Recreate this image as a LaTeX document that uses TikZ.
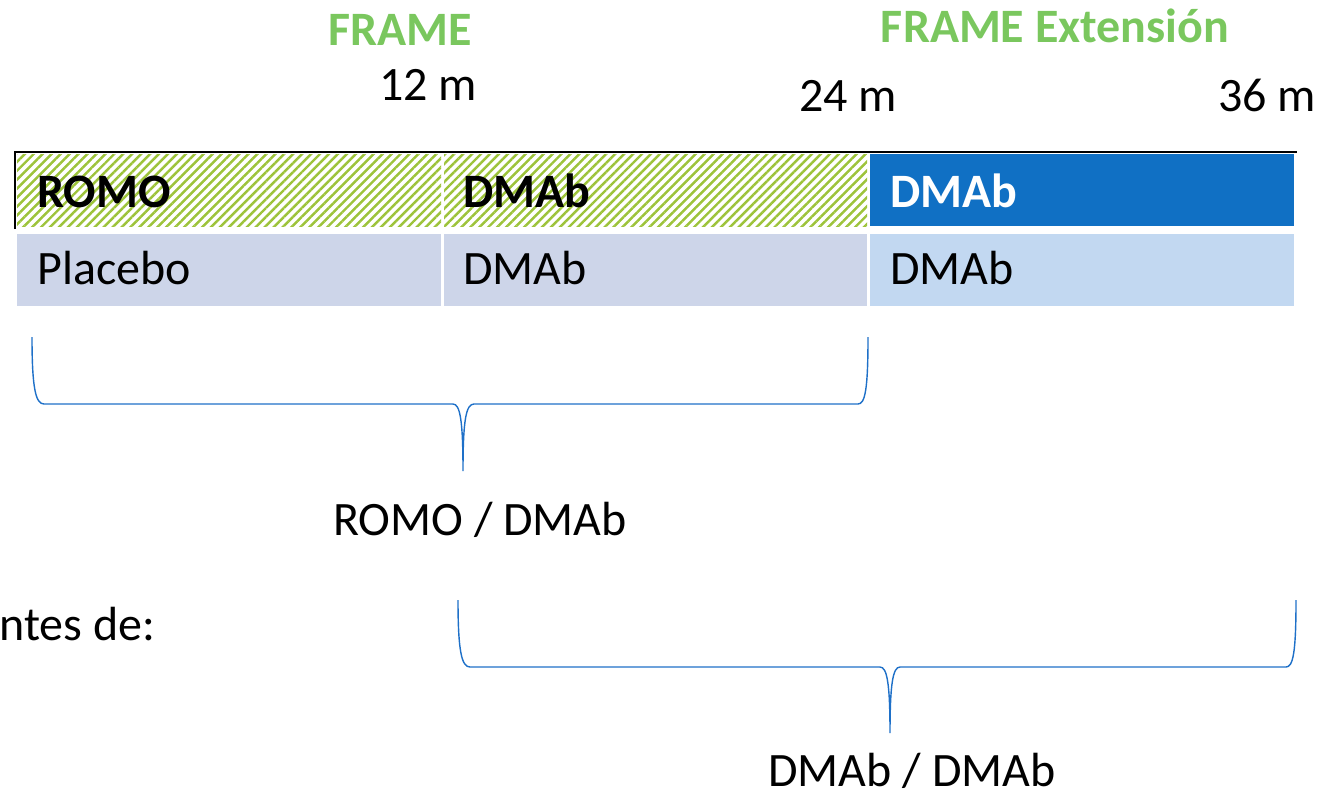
\documentclass[tikz,border=0pt]{standalone}
\usepackage{fontspec}
\setmainfont{Carlito}
\usetikzlibrary{patterns.meta}

\definecolor{framegreen}{RGB}{122,199,94}
\definecolor{hatchgreen}{RGB}{157,195,58}
\definecolor{extblue}{RGB}{16,112,196}
\definecolor{grayblue}{RGB}{205,213,233}
\definecolor{paleblue}{RGB}{194,216,241}
\definecolor{bracecol}{RGB}{30,112,200}

\tikzset{
  txt/.style={font=\fontsize{27.3}{32}\selectfont, inner sep=0pt},
  bold/.style={txt, font=\fontsize{27.3}{32}\selectfont\bfseries},
  hatched/.style={pattern={Lines[angle=45,distance=3.6pt,line width=1.4pt]}, pattern color=hatchgreen},
  bracket/.style={draw=bracecol, line width=0.8pt}
}

\begin{document}
\begin{tikzpicture}[x=0.02cm, y=-0.02cm]
\useasboundingbox (0,0) rectangle (1321,796);

% titles and months
\node[bold, text=framegreen, anchor=base] (frame) at (400,45) {FRAME};
\node[bold, text=framegreen, anchor=base] (ext) at (1055,42) {FRAME Extensión};
\node[txt, anchor=base] (m12) at (428,100) {12 m};
\node[txt, anchor=base] (m24) at (848,111) {24 m};
\node[txt, anchor=base] (m36) at (1267,111) {36 m};

% first row
\fill[hatched] (17,154) rectangle (441,226);
\fill[hatched] (444,154) rectangle (867,226);
\fill[extblue] (870,154) rectangle (1294,226);
\draw[line width=0.9pt] (15,229) -- (15,152) -- (1297,152);
\node[bold, anchor=base west] (romo) at (37,207) {ROMO};
\node[bold, anchor=base west] (dmab1) at (463,207) {DMAb};
\node[bold, text=white, anchor=base west] (dmab2) at (890,207) {DMAb};

% second row
\fill[grayblue] (17,234) rectangle (441,306);
\fill[grayblue] (444,234) rectangle (867,306);
\fill[paleblue] (870,234) rectangle (1294,306);
\node[txt, anchor=base west] (placebo) at (37,284) {Placebo};
\node[txt, anchor=base west] (dmab3) at (463,284) {DMAb};
\node[txt, anchor=base west] (dmab4) at (890,284) {DMAb};

% braces
\draw[bracket] (32,337) .. controls (32,390) and (36,404) .. (44,404) -- (453,404)
  .. controls (460,404) and (463,420) .. (463,471)
  .. controls (463,420) and (466,404) .. (474,404) -- (858,404)
  .. controls (865,404) and (868,390) .. (868,337);
\node[txt, anchor=base] (romodmab) at (480,535) {ROMO / DMAb};

\node[txt, anchor=base west] (pac) at (-1,640) {ntes de:};

\draw[bracket] (458,600) .. controls (458,653) and (462,667) .. (470,667) -- (880,667)
  .. controls (887,667) and (890,683) .. (890,733)
  .. controls (890,683) and (893,667) .. (900,667) -- (1286,667)
  .. controls (1293,667) and (1296,653) .. (1296,600);
\node[txt, anchor=base] (dmabdmab) at (912,786) {DMAb / DMAb};
\end{tikzpicture}
\end{document}
